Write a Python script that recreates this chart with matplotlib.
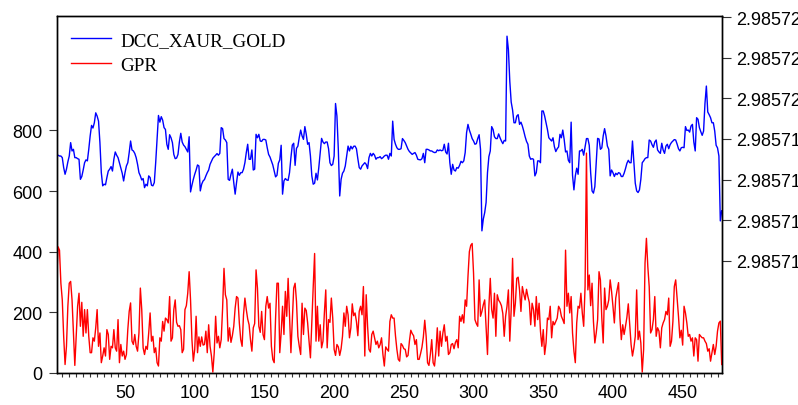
import numpy as np
import matplotlib
matplotlib.use("Agg")
import matplotlib.pyplot as plt
from matplotlib.ticker import FixedLocator, FormatStrFormatter, MultipleLocator

# ---------------- data ----------------
series_names = ["DCC_XAUR_GOLD", "GPR"]
obs = np.arange(1, 479)

# DCC_XAUR_GOLD = dcc_base + dcc_micro * 1e-6
dcc_base = 2.98571
dcc_micro = [
    7.20, 7.20, 7.16, 7.16, 7.08, 6.59, 6.26, 6.51, 6.87, 7.16,
    7.82, 7.41, 7.49, 7.08, 7.08, 7.03, 7.00, 6.01, 6.15, 6.47,
    6.83, 6.97, 6.92, 7.49, 8.15, 8.67, 8.54, 8.80, 9.29, 9.13,
    8.88, 7.82, 6.34, 5.69, 5.77, 5.74, 6.10, 6.42, 6.51, 6.64,
    6.42, 7.00, 7.36, 7.20, 7.08, 6.83, 6.59, 6.31, 5.93, 6.34,
    6.67, 6.83, 7.33, 7.90, 7.46, 7.41, 7.29, 7.08, 6.75, 6.34,
    6.18, 5.98, 6.05, 5.60, 5.77, 5.69, 6.18, 6.10, 5.72, 5.69,
    5.85, 6.83, 7.98, 9.16, 8.83, 9.10, 8.93, 8.56, 8.47, 7.74,
    7.49, 8.21, 8.06, 7.82, 7.24, 7.03, 7.06, 7.24, 7.85, 8.28,
    7.85, 7.70, 7.62, 7.49, 7.36, 8.11, 5.39, 5.72, 6.01, 6.26,
    6.47, 6.72, 6.67, 5.44, 5.77, 5.93, 6.00, 6.18, 6.34, 6.47,
    6.75, 6.90, 7.05, 7.13, 7.20, 7.28, 7.20, 7.29, 8.56, 8.51,
    8.02, 7.95, 7.82, 6.01, 5.96, 6.26, 6.51, 5.85, 5.28, 5.85,
    6.37, 6.21, 6.34, 6.34, 6.51, 6.83, 7.33, 7.74, 7.00, 7.00,
    7.46, 6.47, 6.51, 8.23, 8.06, 8.23, 7.90, 7.88, 7.98, 7.98,
    7.95, 7.57, 7.24, 7.11, 6.92, 6.72, 6.42, 6.13, 6.21, 6.80,
    6.97, 7.69, 5.28, 5.93, 6.05, 5.98, 5.96, 6.34, 7.08, 7.70,
    7.79, 6.70, 7.54, 7.65, 8.08, 8.44, 8.15, 7.98, 8.61, 8.23,
    7.74, 7.82, 7.16, 6.18, 5.77, 5.82, 6.31, 5.98, 6.59, 7.33,
    8.03, 7.85, 7.77, 7.85, 7.85, 7.52, 6.83, 6.69, 6.75, 7.16,
    9.75, 9.13, 7.49, 5.19, 6.01, 6.31, 6.42, 6.67, 7.16, 7.65,
    7.41, 7.64, 7.51, 7.64, 7.65, 7.52, 7.03, 6.59, 6.51, 6.67,
    6.75, 6.83, 6.75, 6.54, 7.08, 7.29, 7.16, 7.29, 7.20, 7.00,
    7.08, 7.08, 7.13, 7.03, 7.08, 7.16, 7.20, 7.20, 7.00, 7.29,
    7.16, 8.88, 7.98, 7.74, 7.57, 7.49, 7.49, 7.52, 8.02, 7.93,
    7.82, 7.65, 7.49, 7.38, 7.31, 7.24, 7.29, 7.33, 7.20, 7.00,
    6.98, 6.97, 7.03, 7.29, 6.83, 7.49, 7.49, 7.46, 7.41, 7.41,
    7.36, 7.33, 7.34, 7.46, 7.42, 7.46, 7.42, 7.44, 7.74, 7.36,
    7.26, 7.79, 6.83, 6.26, 6.75, 6.47, 6.42, 6.59, 6.56, 6.70,
    6.90, 6.83, 6.92, 7.33, 8.31, 8.72, 8.44, 8.24, 8.02, 7.90,
    7.74, 7.77, 8.02, 8.21, 7.49, 3.47, 4.05, 4.37, 4.87, 6.34,
    7.13, 7.41, 8.61, 8.47, 8.11, 8.02, 8.02, 8.25, 8.06, 7.90,
    7.77, 7.93, 7.90, 13.07, 12.41, 10.85, 9.82, 9.43, 8.80, 8.80,
    9.13, 9.20, 8.72, 8.83, 8.64, 8.39, 8.11, 7.88, 7.74, 7.16,
    7.00, 7.03, 7.00, 6.18, 6.34, 6.92, 6.92, 6.83, 9.38, 9.38,
    9.13, 8.80, 8.47, 8.06, 7.98, 7.90, 8.06, 7.62, 7.38, 7.52,
    7.61, 8.23, 8.06, 8.44, 7.98, 7.36, 7.41, 6.95, 6.83, 8.83,
    6.21, 5.49, 6.18, 6.56, 6.26, 7.41, 7.41, 7.49, 7.20, 7.62,
    8.02, 8.02, 7.69, 6.34, 5.44, 5.33, 5.65, 6.83, 8.03, 8.00,
    7.49, 7.56, 8.15, 8.51, 8.15, 7.65, 7.49, 6.18, 6.47, 6.34,
    6.15, 6.31, 6.24, 6.34, 6.31, 6.15, 6.15, 6.31, 6.54, 6.80,
    6.95, 6.83, 6.83, 7.90, 6.83, 5.82, 5.44, 5.36, 5.49, 6.01,
    6.83, 6.92, 7.03, 7.08, 7.08, 7.95, 7.90, 7.72, 7.59, 7.85,
    7.95, 7.46, 7.36, 7.29, 7.79, 7.46, 7.29, 7.65, 7.74, 7.52,
    7.72, 7.83, 7.90, 7.97, 7.95, 7.75, 7.52, 7.41, 7.57, 7.59,
    7.57, 8.61, 8.42, 8.44, 8.34, 8.64, 8.72, 7.85, 7.41, 9.05,
    8.97, 8.56, 8.36, 8.18, 8.39, 9.75, 10.61, 9.33, 9.20, 9.05,
    8.80, 8.80, 8.39, 7.69, 7.56, 7.16, 3.96, 4.46,
]

gpr = [
    307, 416, 405, 296, 241, 121, 28, 88, 220, 296,
    302, 241, 132, 25, 121, 220, 263, 154, 233, 121,
    209, 132, 209, 121, 67, 67, 116, 105, 149, 209,
    88, 132, 34, 56, 83, 56, 143, 127, 45, 88,
    83, 143, 83, 72, 176, 34, 94, 56, 72, 45,
    61, 143, 203, 231, 105, 94, 127, 88, 72, 132,
    280, 209, 83, 61, 88, 78, 132, 198, 105, 121,
    67, 83, 34, 23, 116, 105, 170, 138, 181, 176,
    165, 252, 105, 116, 209, 241, 167, 154, 156, 143,
    67, 78, 209, 222, 263, 334, 241, 110, 39, 78,
    187, 67, 119, 88, 119, 92, 94, 138, 67, 159,
    88, 56, 3, 67, 187, 99, 121, 83, 110, 214,
    345, 258, 241, 105, 149, 101, 123, 154, 214, 252,
    247, 165, 110, 88, 192, 247, 209, 178, 159, 110,
    72, 149, 163, 340, 280, 154, 134, 203, 127, 110,
    220, 252, 214, 230, 88, 45, 34, 181, 296, 296,
    67, 132, 220, 127, 269, 187, 312, 192, 67, 170,
    280, 296, 236, 121, 88, 61, 230, 127, 214, 206,
    165, 105, 50, 170, 285, 394, 105, 220, 105, 159,
    83, 105, 198, 274, 83, 176, 167, 247, 181, 78,
    58, 94, 86, 58, 80, 121, 198, 154, 220, 192,
    116, 149, 228, 189, 198, 170, 123, 203, 220, 192,
    285, 56, 258, 154, 78, 69, 127, 138, 116, 94,
    105, 83, 94, 116, 61, 23, 86, 78, 72, 170,
    192, 181, 181, 123, 78, 45, 39, 97, 91, 80,
    78, 53, 58, 105, 141, 130, 123, 94, 110, 45,
    45, 64, 85, 119, 174, 121, 34, 25, 61, 110,
    34, 23, 72, 149, 56, 138, 88, 132, 159, 105,
    121, 61, 67, 94, 97, 80, 101, 110, 83, 187,
    170, 192, 165, 241, 220, 318, 400, 421, 427, 329,
    176, 163, 154, 307, 187, 203, 225, 241, 154, 61,
    220, 312, 209, 181, 263, 121, 258, 240, 233, 222,
    196, 121, 187, 220, 274, 105, 209, 378, 187, 230,
    312, 316, 274, 203, 285, 261, 241, 276, 252, 233,
    159, 230, 209, 154, 252, 176, 230, 138, 88, 143,
    61, 99, 181, 176, 220, 116, 170, 159, 170, 181,
    220, 211, 187, 176, 163, 405, 220, 263, 198, 252,
    132, 72, 34, 165, 220, 214, 263, 198, 154, 285,
    725, 274, 323, 222, 296, 170, 99, 132, 176, 334,
    307, 181, 99, 280, 209, 220, 241, 307, 269, 220,
    165, 247, 274, 298, 181, 110, 159, 127, 154, 184,
    228, 159, 94, 56, 83, 121, 274, 110, 138, 99,
    3, 78, 362, 444, 351, 285, 132, 143, 176, 252,
    121, 149, 138, 83, 149, 165, 176, 203, 192, 247,
    88, 105, 170, 285, 307, 249, 187, 116, 141, 92,
    220, 198, 165, 121, 127, 105, 116, 56, 116, 110,
    39, 127, 121, 116, 116, 105, 97, 72, 80, 39,
    67, 94, 61, 88, 138, 165, 171, 28,
]

left_ticks = [0, 200, 400, 600, 800]
right_ticks = [2.985712, 2.985714, 2.985716, 2.985718, 2.985720, 2.985722, 2.985724]
x_labels = [50, 100, 150, 200, 250, 300, 350, 400, 450]

dcc = dcc_base + np.array(dcc_micro) * 1e-6

# ---------------- figure ----------------
W, H = 798, 406
fig = plt.figure(figsize=(W / 100, H / 100), dpi=100)
fig.patch.set_facecolor("white")
ax = fig.add_axes([56.7 / W, 32 / H, 665 / W, 356.7 / H])
ax2 = ax.twinx()

tick_family = "Liberation Sans"
tick_size = 13

l_blue, = ax2.plot(obs, dcc, color="#0000ff", lw=1.0)
l_red, = ax.plot(obs, gpr, color="#ff0000", lw=1.0)
ax.set_zorder(ax2.get_zorder() + 1)
ax.patch.set_visible(False)

ax.set_xlim(1, 478)
ax.set_ylim(0, 1176)
ax2.set_ylim(dcc_base - 3.54e-6, dcc_base + 14.05e-6)

ax.xaxis.set_major_locator(FixedLocator(x_labels))
ax.xaxis.set_minor_locator(MultipleLocator(5))
ax.yaxis.set_major_locator(FixedLocator(left_ticks))
ax2.yaxis.set_major_locator(FixedLocator(right_ticks))
ax2.yaxis.set_major_formatter(FormatStrFormatter("%.6f"))

ax.tick_params(axis="x", which="both", direction="out", length=3.2, width=0.8,
               color="#333333", pad=5.0)
ax.tick_params(axis="y", direction="out", length=5.8, width=0.8, color="#333333", pad=4.5)
ax2.tick_params(axis="y", direction="out", length=6.5, width=0.8, color="#333333", pad=4.0)

for lab in ax.get_xticklabels() + ax.get_yticklabels() + ax2.get_yticklabels():
    lab.set_fontfamily(tick_family)
    lab.set_fontsize(tick_size)

for a in (ax, ax2):
    for s in a.spines.values():
        s.set_color("black")
        s.set_linewidth(1.0)

leg = ax.legend([l_blue, l_red], series_names, loc="upper left",
                bbox_to_anchor=(0.0215, 0.958), frameon=False,
                prop={"family": "Liberation Serif", "size": 13.75},
                handlelength=2.1, handletextpad=0.5, labelspacing=0.4,
                borderpad=0, borderaxespad=0)

fig.savefig("out.png", dpi=100)
